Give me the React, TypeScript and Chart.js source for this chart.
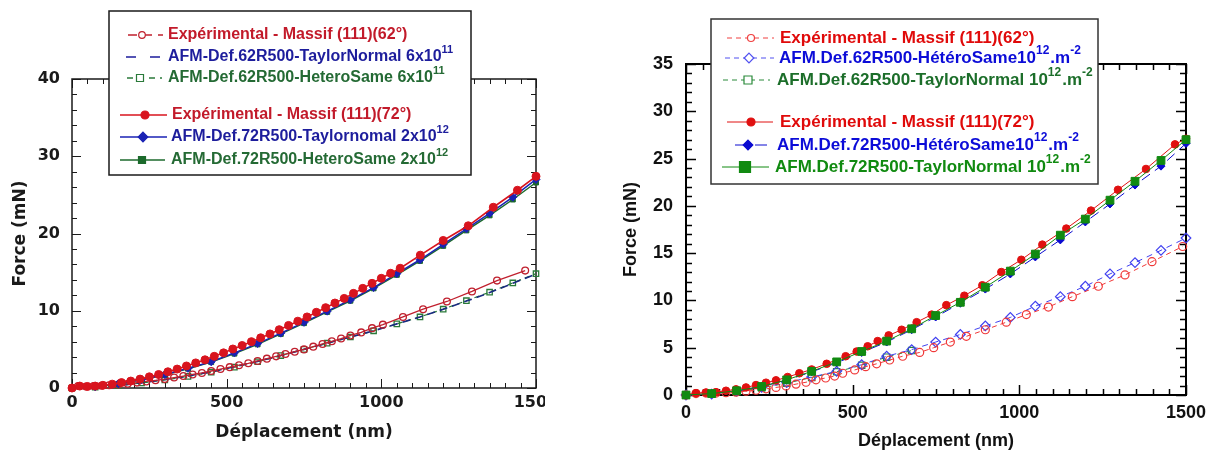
import React, { useEffect, useRef } from 'react';
import { Chart, registerables } from 'chart.js';
Chart.register(...registerables);

// ---------------- LEFT CHART DATA ----------------
const L_X_TICKS = [0, 500, 1000, 1500];
const L_Y_TICKS = [0, 10, 20, 30, 40];

const L_X_EXP62 = [0, 20, 45, 70, 95, 120, 150, 180, 210, 240, 270, 300, 330, 360, 390, 420, 450, 480, 510, 540, 570, 600, 630, 660, 690, 720, 750, 780, 810, 840, 870, 900, 935, 970, 1005, 1070, 1135, 1212, 1293, 1374, 1465];
const L_Y_EXP62 = [0, 0.25, 0.2, 0.25, 0.3, 0.35, 0.45, 0.55, 0.7, 0.85, 1.0, 1.15, 1.35, 1.55, 1.75, 1.95, 2.2, 2.45, 2.7, 2.95, 3.2, 3.5, 3.8, 4.1, 4.4, 4.7, 5.0, 5.35, 5.7, 6.05, 6.4, 6.8, 7.2, 7.75, 8.2, 9.2, 10.2, 11.2, 12.5, 13.9, 15.2];

const L_X_75 = [0, 75, 150, 225, 300, 375, 450, 525, 600, 675, 750, 825, 900, 975, 1050, 1125, 1200, 1275, 1350, 1425, 1500];
const L_Y_TN62 = [0, 0.12, 0.32, 0.68, 1.1, 1.55, 2.1, 2.75, 3.45, 4.2, 5.0, 5.8, 6.6, 7.4, 8.3, 9.2, 10.2, 11.25, 12.35, 13.55, 14.75];
const L_Y_HS62 = [0, 0.1, 0.3, 0.65, 1.05, 1.5, 2.05, 2.7, 3.4, 4.2, 5.0, 5.8, 6.6, 7.4, 8.3, 9.2, 10.2, 11.3, 12.4, 13.6, 14.8];

const L_X_EXP72 = [0, 25, 50, 75, 100, 130, 160, 190, 220, 250, 280, 310, 340, 370, 400, 430, 460, 490, 520, 550, 580, 610, 640, 670, 700, 730, 760, 790, 820, 850, 880, 910, 940, 970, 1000, 1030, 1061, 1126, 1200, 1281, 1362, 1440, 1500];
const L_Y_EXP72 = [0, 0.25, 0.2, 0.25, 0.35, 0.5, 0.7, 0.9, 1.15, 1.45, 1.75, 2.1, 2.45, 2.85, 3.25, 3.65, 4.1, 4.55, 5.05, 5.5, 6.0, 6.5, 7.0, 7.55, 8.1, 8.65, 9.2, 9.8, 10.4, 11.0, 11.6, 12.25, 12.9, 13.55, 14.2, 14.85, 15.5, 17.2, 19.1, 21.0, 23.4, 25.6, 27.4];
const L_Y_TN72 = [0, 0.15, 0.55, 1.1, 1.75, 2.55, 3.4, 4.55, 5.75, 7.1, 8.5, 9.95, 11.4, 13.0, 14.8, 16.6, 18.6, 20.6, 22.6, 24.7, 27.0];
const L_Y_HS72 = [0, 0.15, 0.5, 1.05, 1.7, 2.5, 3.35, 4.45, 5.65, 7.0, 8.4, 9.85, 11.3, 12.9, 14.65, 16.45, 18.4, 20.4, 22.35, 24.4, 26.6];

// ---------------- RIGHT CHART DATA ----------------
const R_X_TICKS = [0, 500, 1000, 1500];
const R_Y_TICKS = [0, 5, 10, 15, 20, 25, 30, 35];

const R_X_EXP62 = [0, 30, 60, 90, 120, 150, 180, 210, 240, 270, 300, 330, 360, 390, 419, 446, 470, 506, 539, 572, 611, 650, 701, 743, 793, 841, 898, 961, 1021, 1087, 1159, 1237, 1317, 1398, 1490];
const R_Y_EXP62 = [0, 0.15, 0.2, 0.2, 0.25, 0.3, 0.4, 0.5, 0.65, 0.8, 0.95, 1.15, 1.35, 1.6, 1.8, 2.0, 2.3, 2.65, 3.0, 3.3, 3.7, 4.1, 4.5, 5.0, 5.6, 6.2, 6.9, 7.7, 8.5, 9.3, 10.4, 11.5, 12.7, 14.1, 15.7];

const R_X_75 = [0, 77, 152, 227, 302, 377, 452, 527, 602, 677, 749, 823, 898, 973, 1048, 1123, 1198, 1272, 1347, 1425, 1500];
const R_Y_HS62 = [0, 0.1, 0.4, 0.8, 1.3, 1.9, 2.5, 3.2, 4.1, 4.8, 5.6, 6.4, 7.3, 8.2, 9.4, 10.4, 11.5, 12.8, 14.0, 15.3, 16.6];
const R_X_TN62 = [0, 77, 152, 227, 302, 377, 452, 527, 602, 677];
const R_Y_TN62 = [0, 0.1, 0.35, 0.75, 1.25, 1.85, 2.45, 3.15, 4.0, 4.7];

const R_X_EXP72 = [0, 30, 60, 90, 120, 150, 180, 210, 240, 270, 305, 340, 377, 422, 479, 512, 545, 575, 608, 647, 692, 737, 781, 835, 889, 946, 1006, 1069, 1141, 1215, 1296, 1380, 1467, 1500];
const R_Y_EXP72 = [0, 0.2, 0.25, 0.3, 0.45, 0.6, 0.8, 1.05, 1.3, 1.55, 1.9, 2.3, 2.7, 3.3, 4.1, 4.6, 5.15, 5.7, 6.3, 6.9, 7.7, 8.5, 9.5, 10.5, 11.6, 13.0, 14.3, 15.9, 17.6, 19.5, 21.7, 23.9, 26.5, 27.1];
const R_Y_TN72 = [0, 0.15, 0.45, 0.9, 1.6, 2.5, 3.5, 4.6, 5.7, 7.0, 8.4, 9.8, 11.4, 13.1, 14.9, 16.9, 18.6, 20.6, 22.6, 24.8, 27.0];
const R_Y_HS72 = [0, 0.15, 0.45, 0.9, 1.55, 2.45, 3.4, 4.5, 5.6, 6.9, 8.25, 9.7, 11.2, 12.8, 14.6, 16.4, 18.3, 20.2, 22.2, 24.2, 26.6];

// ---------------- helpers ----------------
const pts = (xs: number[], ys: number[]) => xs.map((x, i) => ({ x, y: ys[i] }));
const plain = (v: any) => String(v);

function drawMarker(ctx: CanvasRenderingContext2D, style: string, x: number, y: number, r: number, fill: boolean, color: string, lw: number) {
  ctx.save();
  ctx.setLineDash([]);
  ctx.beginPath();
  if (style === 'circle') ctx.arc(x, y, r, 0, Math.PI * 2);
  else if (style === 'rect') ctx.rect(x - r, y - r, 2 * r, 2 * r);
  else if (style === 'rectRot') {
    ctx.moveTo(x, y - r * 1.2); ctx.lineTo(x + r * 1.2, y); ctx.lineTo(x, y + r * 1.2); ctx.lineTo(x - r * 1.2, y); ctx.closePath();
  }
  ctx.fillStyle = fill ? color : '#fff';
  ctx.fill();
  ctx.strokeStyle = color; ctx.lineWidth = lw; ctx.stroke();
  ctx.restore();
}

type Part = { t: string; sup?: boolean };
type Row = { y: number; x0: number; x1: number; dash: number[]; color: string; lw: number; marker?: string; mx?: number; mr?: number; mFill?: boolean; tx: number; tc: string; parts: Part[] };
type LegendCfg = { box: [number, number, number, number]; border: string; bw: number; size: number; rows: Row[] };

function legendPlugin(cfg: LegendCfg) {
  return {
    id: 'customLegend',
    afterDraw(chart: any) {
      const ctx: CanvasRenderingContext2D = chart.ctx;
      ctx.save();
      const [bx, by, bw, bh] = cfg.box;
      ctx.fillStyle = '#fff';
      ctx.fillRect(bx, by, bw, bh);
      ctx.strokeStyle = cfg.border; ctx.lineWidth = cfg.bw;
      ctx.strokeRect(bx, by, bw, bh);
      for (const r of cfg.rows) {
        ctx.beginPath();
        ctx.setLineDash(r.dash);
        ctx.strokeStyle = r.color; ctx.lineWidth = r.lw;
        ctx.moveTo(r.x0, r.y); ctx.lineTo(r.x1, r.y); ctx.stroke();
        ctx.setLineDash([]);
        if (r.marker) drawMarker(ctx, r.marker, r.mx!, r.y, r.mr!, !!r.mFill, r.color, 1.2);
        let x = r.tx;
        ctx.textBaseline = 'middle';
        ctx.textAlign = 'left';
        ctx.fillStyle = r.tc;
        for (const p of r.parts) {
          const s = p.sup ? Math.round(cfg.size * 0.68) : cfg.size;
          ctx.font = `bold ${s}px "Liberation Sans", Arial, sans-serif`;
          const yy = p.sup ? r.y - cfg.size * 0.42 : r.y;
          ctx.fillText(p.t, x, yy);
          x += ctx.measureText(p.t).width + (p.sup ? 1 : 0);
        }
      }
      ctx.restore();
    },
  };
}

type FrameCfg = { color: string; lw: number; xMinor: number; xMajor: number; yMinor: number; yMajor: number; majLen: number; minLen: number; tickLw: number };
function framePlugin(cfg: FrameCfg) {
  return {
    id: 'frame',
    beforeDatasetsDraw(chart: any) {
      const ctx: CanvasRenderingContext2D = chart.ctx;
      const a = chart.chartArea;
      const xs = chart.scales.x, ys = chart.scales.y;
      ctx.save();
      ctx.strokeStyle = cfg.color;
      ctx.lineWidth = cfg.tickLw;
      ctx.beginPath();
      for (let v = xs.min; v <= xs.max + 1e-6; v += cfg.xMinor) {
        const p = Math.round(xs.getPixelForValue(v)) + 0.5;
        const major = Math.abs(v / cfg.xMajor - Math.round(v / cfg.xMajor)) < 1e-6;
        const len = major ? cfg.majLen : cfg.minLen;
        ctx.moveTo(p, a.bottom); ctx.lineTo(p, a.bottom - len);
        ctx.moveTo(p, a.top); ctx.lineTo(p, a.top + len);
      }
      for (let v = ys.min; v <= ys.max + 1e-6; v += cfg.yMinor) {
        const p = Math.round(ys.getPixelForValue(v)) + 0.5;
        const major = Math.abs(v / cfg.yMajor - Math.round(v / cfg.yMajor)) < 1e-6;
        const len = major ? cfg.majLen : cfg.minLen;
        ctx.moveTo(a.left, p); ctx.lineTo(a.left + len, p);
        ctx.moveTo(a.right, p); ctx.lineTo(a.right - len, p);
      }
      ctx.stroke();
      ctx.lineWidth = cfg.lw;
      ctx.strokeRect(a.left, a.top, a.right - a.left, a.bottom - a.top);
      ctx.restore();
    },
  };
}

function ds(label: string, data: any[], o: any) {
  return {
    label, data,
    showLine: true, fill: false, tension: 0, clip: false,
    borderColor: o.color, borderWidth: o.lw ?? 1, borderDash: o.dash ?? [],
    pointStyle: o.ps ?? 'circle', pointRadius: o.r ?? 0,
    pointBackgroundColor: o.hollow ? 'rgba(0,0,0,0)' : o.color,
    pointBorderColor: o.color, pointBorderWidth: o.pbw ?? 1,
    order: o.order ?? 0,
  };
}

function leftConfig(): any {
  const red = '#c21a2a', blue = '#1d1d9c', green = '#246a34';
  const tickFont = { family: '"DejaVu Sans", Verdana, sans-serif', size: 16, weight: 'bold' };
  const titleFont = { family: '"DejaVu Sans", Verdana, sans-serif', size: 17, weight: 'bold' };
  return {
    type: 'line',
    data: {
      datasets: [
        ds('Expérimental - Massif (111)(72°)', pts(L_X_EXP72, L_Y_EXP72), { color: '#d8141e', lw: 1.6, r: 4, order: 0 }),
        ds('AFM-Def.72R500-Taylornomal 2x10^12', pts(L_X_75, L_Y_TN72), { color: '#1a22b4', lw: 1.5, r: 4, ps: 'rectRot', order: 1 }),
        ds('AFM-Def.72R500-HeteroSame 2x10^12', pts(L_X_75, L_Y_HS72), { color: '#1c6a2c', lw: 1.5, r: 3.5, ps: 'rect', order: 2 }),
        ds('Expérimental - Massif (111)(62°)', pts(L_X_EXP62, L_Y_EXP62), { color: '#c0202e', lw: 1.3, r: 3.4, hollow: true, pbw: 1.3, order: 3 }),
        ds('AFM-Def.62R500-TaylorNormal 6x10^11', pts(L_X_75, L_Y_TN62), { color: '#1a2a80', lw: 1.6, dash: [8, 5], order: 4 }),
        ds('AFM-Def.62R500-HeteroSame 6x10^11', pts(L_X_75, L_Y_HS62), { color: '#2a7a3a', lw: 1.2, r: 3.8, ps: 'rect', hollow: true, pbw: 1.3, dash: [5, 4], order: 5 }),
      ],
    },
    options: {
      responsive: false, animation: false, devicePixelRatio: 1, events: [],
      layout: { padding: { left: 0, top: 79, right: 44, bottom: 0 } },
      plugins: { legend: { display: false }, tooltip: { enabled: false } },
      scales: {
        x: {
          type: 'linear', min: 0, max: 1500,
          afterBuildTicks: (s: any) => { s.ticks = L_X_TICKS.map((v) => ({ value: v })); },
          afterFit: (s: any) => { s.height = 66; },
          grid: { display: false, drawTicks: false }, border: { display: false },
          ticks: { font: tickFont, color: '#1a1a1a', padding: 5, maxRotation: 0, autoSkip: false, callback: plain },
          title: { display: true, text: 'Déplacement (nm)', font: titleFont, color: '#1a1a1a', padding: { top: 0, bottom: 11 } },
        },
        y: {
          type: 'linear', min: 0, max: 40,
          afterBuildTicks: (s: any) => { s.ticks = L_Y_TICKS.map((v) => ({ value: v })); },
          afterFit: (s: any) => { s.width = 72; },
          grid: { display: false, drawTicks: false }, border: { display: false },
          ticks: { font: tickFont, color: '#1a1a1a', padding: 12, callback: plain },
          title: { display: true, text: 'Force (mN)', font: titleFont, color: '#1a1a1a', padding: { top: 10, bottom: 0 } },
        },
      },
    },
    plugins: [
      framePlugin({ color: '#1a1a1a', lw: 1.5, xMinor: 50, xMajor: 500, yMinor: 2, yMajor: 10, majLen: 9, minLen: 5, tickLw: 1 }),
      legendPlugin({
        box: [109, 11, 362, 164], border: '#1a1a1a', bw: 1.5, size: 16,
        rows: [
          { y: 35, x0: 128, x1: 163, dash: [9, 6], color: '#c0202e', lw: 1.3, marker: 'circle', mx: 142, mr: 3.3, mFill: false, tx: 168, tc: red, parts: [{ t: 'Expérimental - Massif (111)(62°)' }] },
          { y: 57, x0: 126, x1: 161, dash: [10, 14], color: blue, lw: 1.5, tx: 168, tc: blue, parts: [{ t: 'AFM-Def.62R500-TaylorNormal 6x10' }, { t: '11', sup: true }] },
          { y: 78, x0: 127, x1: 162, dash: [6, 5], color: '#2a7a3a', lw: 1.3, marker: 'rect', mx: 140, mr: 3.5, mFill: false, tx: 168, tc: green, parts: [{ t: 'AFM-Def.62R500-HeteroSame 6x10' }, { t: '11', sup: true }] },
          { y: 115, x0: 120, x1: 167, dash: [], color: '#d8141e', lw: 1.5, marker: 'circle', mx: 145, mr: 4, mFill: true, tx: 172, tc: red, parts: [{ t: 'Expérimental - Massif (111)(72°)' }] },
          { y: 137, x0: 120, x1: 167, dash: [], color: '#1a22b4', lw: 1.5, marker: 'rectRot', mx: 143, mr: 4, mFill: true, tx: 171, tc: blue, parts: [{ t: 'AFM-Def.72R500-Taylornomal 2x10' }, { t: '12', sup: true }] },
          { y: 160, x0: 120, x1: 165, dash: [], color: '#1c6a2c', lw: 1.5, marker: 'rect', mx: 142, mr: 3.5, mFill: true, tx: 171, tc: green, parts: [{ t: 'AFM-Def.72R500-HeteroSame 2x10' }, { t: '12', sup: true }] },
        ],
      }),
    ],
  };
}

function rightConfig(): any {
  const tickFont = { family: '"Liberation Sans", Arial, sans-serif', size: 18, weight: 'bold' };
  const titleFont = { family: '"Liberation Sans", Arial, sans-serif', size: 18, weight: 'bold' };
  const red = '#e00a0a', blue = '#0c0cd8', green1 = '#1c6e2a', green2 = '#108a10';
  return {
    type: 'line',
    data: {
      datasets: [
        ds('AFM.Def.72R500-TaylorNormal 10^12.m^-2', pts(R_X_75, R_Y_TN72), { color: '#118a11', lw: 1, r: 5.5, ps: 'rect', order: 0 }),
        ds('Expérimental - Massif (111)(72°)', pts(R_X_EXP72, R_Y_EXP72), { color: '#e01010', lw: 1, r: 3.8, order: 1 }),
        ds('AFM.Def.72R500-HétéroSame10^12.m^-2', pts(R_X_75, R_Y_HS72), { color: '#0a0ad0', lw: 1, r: 4, ps: 'rectRot', dash: [10, 6], order: 2 }),
        ds('Expérimental - Massif (111)(62°)', pts(R_X_EXP62, R_Y_EXP62), { color: '#f03838', lw: 1, r: 4, hollow: true, pbw: 1.2, dash: [5, 4], order: 3 }),
        ds('AFM.Def.62R500-HétéroSame10^12.m^-2', pts(R_X_75, R_Y_HS62), { color: '#4040f0', lw: 1, r: 4.8, ps: 'rectRot', hollow: true, pbw: 1.2, dash: [6, 5], order: 4 }),
        ds('AFM.Def.62R500-TaylorNormal 10^12.m^-2', pts(R_X_TN62, R_Y_TN62), { color: '#2a8a3a', lw: 1, r: 4.5, ps: 'rect', hollow: true, pbw: 1.2, dash: [5, 4], order: 5 }),
      ],
    },
    options: {
      responsive: false, animation: false, devicePixelRatio: 1, events: [],
      layout: { padding: { left: 0, top: 64, right: 32, bottom: 0 } },
      plugins: { legend: { display: false }, tooltip: { enabled: false } },
      scales: {
        x: {
          type: 'linear', min: 0, max: 1500,
          afterBuildTicks: (s: any) => { s.ticks = R_X_TICKS.map((v) => ({ value: v })); },
          afterFit: (s: any) => { s.height = 59; },
          grid: { display: false, drawTicks: false }, border: { display: false },
          ticks: { font: tickFont, color: '#111', padding: 7, maxRotation: 0, autoSkip: false, callback: plain },
          title: { display: true, text: 'Déplacement (nm)', font: titleFont, color: '#111', padding: { top: 0, bottom: 2 } },
        },
        y: {
          type: 'linear', min: 0, max: 35,
          afterBuildTicks: (s: any) => { s.ticks = R_Y_TICKS.map((v) => ({ value: v })); },
          afterFit: (s: any) => { s.width = 86; },
          grid: { display: false, drawTicks: false }, border: { display: false },
          ticks: { font: tickFont, color: '#111', padding: 13, callback: plain },
          title: { display: true, text: 'Force (mN)', font: titleFont, color: '#111', padding: { top: 20, bottom: 0 } },
        },
      },
    },
    plugins: [
      framePlugin({ color: '#000', lw: 2, xMinor: 50, xMajor: 500, yMinor: 1, yMajor: 5, majLen: 10, minLen: 6, tickLw: 1.5 }),
      legendPlugin({
        box: [111, 19, 387, 165], border: '#333', bw: 1.5, size: 17,
        rows: [
          { y: 38, x0: 127, x1: 174, dash: [5, 4], color: '#f04040', lw: 1, marker: 'circle', mx: 151, mr: 3.5, mFill: false, tx: 180, tc: red, parts: [{ t: 'Expérimental - Massif (111)(62°)' }] },
          { y: 58, x0: 125, x1: 174, dash: [5, 4], color: '#5050f0', lw: 1, marker: 'rectRot', mx: 149, mr: 4, mFill: false, tx: 179, tc: blue, parts: [{ t: 'AFM.Def.62R500-HétéroSame10' }, { t: '12', sup: true }, { t: '.m' }, { t: '-2', sup: true }] },
          { y: 80, x0: 123, x1: 170, dash: [5, 4], color: '#2a8a3a', lw: 1, marker: 'rect', mx: 148, mr: 4, mFill: false, tx: 177, tc: green1, parts: [{ t: 'AFM.Def.62R500-TaylorNormal 10' }, { t: '12', sup: true }, { t: '.m' }, { t: '-2', sup: true }] },
          { y: 122, x0: 127, x1: 173, dash: [], color: '#e01010', lw: 1, marker: 'circle', mx: 151, mr: 4, mFill: true, tx: 180, tc: red, parts: [{ t: 'Expérimental - Massif (111)(72°)' }] },
          { y: 145, x0: 135, x1: 168, dash: [12, 8], color: '#0a0ad0', lw: 1, marker: 'rectRot', mx: 148, mr: 4, mFill: true, tx: 177, tc: blue, parts: [{ t: 'AFM.Def.72R500-HétéroSame10' }, { t: '12', sup: true }, { t: '.m' }, { t: '-2', sup: true }] },
          { y: 167, x0: 122, x1: 169, dash: [], color: '#118a11', lw: 1, marker: 'rect', mx: 145, mr: 5.5, mFill: true, tx: 175, tc: green2, parts: [{ t: 'AFM.Def.72R500-TaylorNormal 10' }, { t: '12', sup: true }, { t: '.m' }, { t: '-2', sup: true }] },
        ],
      }),
    ],
  };
}

export default function App() {
  const leftRef = useRef<HTMLCanvasElement>(null);
  const rightRef = useRef<HTMLCanvasElement>(null);
  useEffect(() => {
    const c1 = new Chart(leftRef.current!, leftConfig());
    const c2 = new Chart(rightRef.current!, rightConfig());
    return () => { c1.destroy(); c2.destroy(); };
  }, []);
  return (
    <div style={{ position: 'absolute', left: 0, top: 0, width: 1218, height: 454, background: '#fff', overflow: 'hidden' }}>
      <div style={{ position: 'absolute', left: 0, top: 0, width: 545, height: 454, overflow: 'hidden' }}>
        <canvas ref={leftRef} width={580} height={454} style={{ width: 580, height: 454, display: 'block' }} />
      </div>
      <div style={{ position: 'absolute', left: 600, top: 0, width: 618, height: 454 }}>
        <canvas ref={rightRef} width={618} height={454} style={{ width: 618, height: 454, display: 'block' }} />
      </div>
    </div>
  );
}
